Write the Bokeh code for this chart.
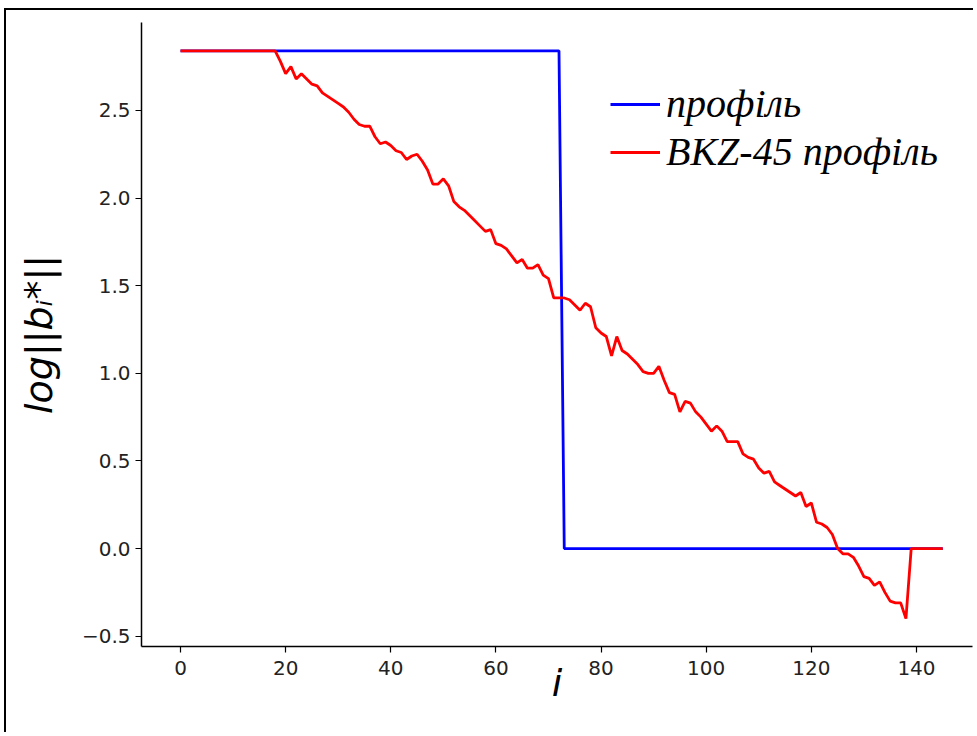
from bokeh.plotting import figure
from bokeh.embed import file_html
from bokeh.resources import INLINE
from bokeh.models import FixedTicker, CustomJSTickFormatter, Legend, LegendItem, Range1d

# ---- data ----
index = list(range(146))
profile = [2.84] * 73 + [0.0] * 73
bkz45_profile = [
    2.84, 2.84, 2.84, 2.84, 2.84, 2.84, 2.84, 2.84, 2.84, 2.84,
    2.84, 2.84, 2.84, 2.84, 2.84, 2.84, 2.84, 2.84, 2.84, 2.78,
    2.71, 2.75, 2.68, 2.71, 2.68, 2.65, 2.64, 2.60, 2.58, 2.56,
    2.54, 2.52, 2.49, 2.45, 2.42, 2.41, 2.41, 2.35, 2.31, 2.32,
    2.30, 2.27, 2.26, 2.22, 2.24, 2.25, 2.21, 2.16, 2.08, 2.08,
    2.11, 2.07, 1.98, 1.95, 1.93, 1.90, 1.87, 1.84, 1.81, 1.82,
    1.74, 1.73, 1.71, 1.67, 1.63, 1.65, 1.60, 1.60, 1.62, 1.56,
    1.54, 1.43, 1.43, 1.43, 1.42, 1.39, 1.36, 1.40, 1.38, 1.26,
    1.23, 1.21, 1.10, 1.21, 1.13, 1.11, 1.08, 1.05, 1.01, 1.00,
    1.00, 1.04, 0.96, 0.89, 0.88, 0.78, 0.84, 0.83, 0.78, 0.75,
    0.71, 0.67, 0.70, 0.67, 0.61, 0.61, 0.61, 0.54, 0.52, 0.51,
    0.46, 0.43, 0.44, 0.38, 0.36, 0.34, 0.32, 0.30, 0.32, 0.24,
    0.26, 0.15, 0.14, 0.12, 0.08, 0.00, -0.03, -0.03, -0.05, -0.10,
    -0.16, -0.17, -0.21, -0.19, -0.25, -0.30, -0.31, -0.31, -0.40, 0.0,
    0.0, 0.0, 0.0, 0.0, 0.0, 0.0,
]
x_ticks = [0, 20, 40, 60, 80, 100, 120, 140]
y_ticks = [-0.5, 0.0, 0.5, 1.0, 1.5, 2.0, 2.5]
series_names = ["профіль", "BKZ-45 профіль"]
x_label = "i"
y_label = "log||bᵢ*||"

p = figure(
    width=969, height=724,
    output_backend="svg", toolbar_location=None,
    x_range=Range1d(-7.42, 150.66), y_range=Range1d(-0.559, 3.002),
    min_border_left=135, min_border_top=12, min_border_bottom=88, min_border_right=3,
)
p.styles = {"margin-left": "4px", "margin-top": "8px",
            "border-left": "2px solid black", "border-top": "2px solid black"}

p.grid.visible = False
p.outline_line_color = None
p.background_fill_color = "white"
p.border_fill_color = "white"

r_blue = p.line(index, profile, line_color="#0000ff", line_width=2.8)
r_red = p.line(index, bkz45_profile, line_color="#ff0000", line_width=2.8)

for ax in (p.xaxis[0], p.yaxis[0]):
    ax.axis_line_color = "black"
    ax.axis_line_width = 1.5
    ax.major_tick_line_color = "black"
    ax.major_tick_line_width = 1.2
    ax.major_tick_out = 6
    ax.major_tick_in = 0
    ax.minor_tick_line_color = None
    ax.major_label_text_font = "DejaVu Sans"
    ax.major_label_text_font_size = "20px"
    ax.major_label_text_color = "#222222"
    ax.axis_label_text_font = "DejaVu Sans"
    ax.axis_label_text_font_style = "italic"
    ax.axis_label_text_color = "black"

p.xaxis[0].ticker = FixedTicker(ticks=x_ticks)
p.yaxis[0].ticker = FixedTicker(ticks=y_ticks)
p.yaxis[0].formatter = CustomJSTickFormatter(code="return tick.toFixed(1).replace('-', '\\u2212');")
p.xaxis[0].axis_label = x_label
p.yaxis[0].axis_label = y_label
p.xaxis[0].axis_label_text_font_size = "38px"
p.yaxis[0].axis_label_text_font_size = "38px"
p.xaxis[0].major_label_standoff = 8
p.yaxis[0].major_label_standoff = 5
p.xaxis[0].axis_label_standoff = -17
p.yaxis[0].axis_label_standoff = 18

legend_style = dict(
    border_line_color=None, background_fill_alpha=0,
    label_text_font="Liberation Serif", label_text_font_style="italic",
    label_text_font_size="40px", label_text_color="black",
    glyph_width=50, glyph_height=30, label_standoff=6, spacing=0,
    padding=0, margin=0,
)
legend_blue = Legend(items=[LegendItem(label=series_names[0], renderers=[r_blue])],
                     location=(469, 519), **legend_style)
legend_red = Legend(items=[LegendItem(label=series_names[1], renderers=[r_red])],
                    location=(469, 471), **legend_style)
p.add_layout(legend_blue)
p.add_layout(legend_red)

open("out.html", "w").write(file_html(p, INLINE))
